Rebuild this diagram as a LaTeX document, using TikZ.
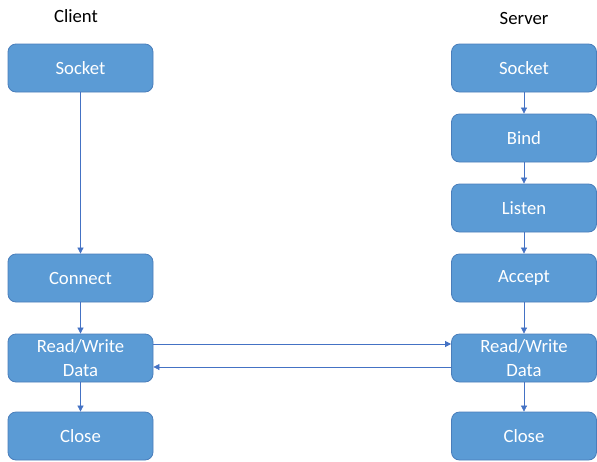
\documentclass[tikz,border=0pt]{standalone}
\usepackage{fontspec}
\setmainfont{Carlito}
\usetikzlibrary{arrows.meta}
\definecolor{boxfill}{HTML}{5B9BD5}
\definecolor{boxline}{HTML}{4A7EBB}
\definecolor{arrowcol}{HTML}{4472C4}
\begin{document}
\begin{tikzpicture}[x=1pt,y=-1pt,
  stepbox/.style={draw=boxline, line width=0.8pt, fill=boxfill, rounded corners=8pt,
    minimum width=145pt, minimum height=48pt, inner sep=0pt, align=center,
    text=white, font=\fontsize{18.7}{24}\selectfont},
  title/.style={font=\fontsize{18.7}{24}\selectfont, text=black, inner sep=0pt},
  link/.style={draw=arrowcol, line width=0.7pt, -{Triangle[length=6pt,width=6pt]}}]
\useasboundingbox (0,0) rectangle (597,461);
% column headings
\node[title] (ct) at (76,16) {Client};
\node[title] (st) at (524,18) {Server};
% client side
\node[stepbox] (cs) at (80.5,68) {Socket};
\node[stepbox] (cc) at (80.5,278) {Connect};
\node[stepbox] (crw) at (80.5,358) {Read/Write\\Data};
\node[stepbox] (ccl) at (80.5,436) {Close};
% server side
\node[stepbox] (ss) at (524,68) {Socket};
\node[stepbox] (sb) at (524,138) {Bind};
\node[stepbox] (sl) at (524,208) {Listen};
\node[stepbox] (sa) at (524,278) {Accept};
\node[stepbox] (srw) at (524,358) {Read/Write\\Data};
\node[stepbox] (scl) at (524,436) {Close};
% vertical flow
\draw[link] (cs) -- (cc);
\draw[link] (cc) -- (crw);
\draw[link] (crw) -- (ccl);
\draw[link] (ss) -- (sb);
\draw[link] (sb) -- (sl);
\draw[link] (sl) -- (sa);
\draw[link] (sa) -- (srw);
\draw[link] (srw) -- (scl);
% data exchange
\draw[link] (crw.east |- 0,344) -- (srw.west |- 0,344);
\draw[link] (srw.west |- 0,367) -- (crw.east |- 0,367);
\end{tikzpicture}
\end{document}
